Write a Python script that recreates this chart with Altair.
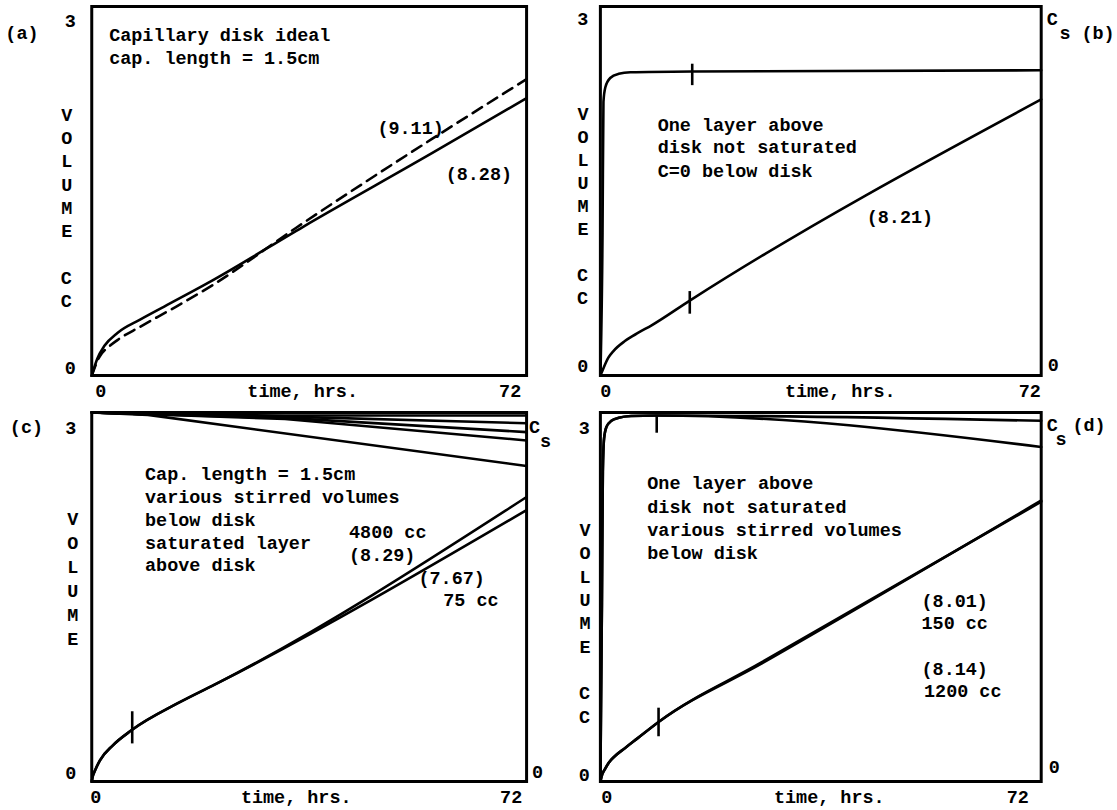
import altair as alt
import pandas as pd

FONT = "Liberation Mono"
FS = 18.5
FW = "bold"
LW = 2.6

# ---------------- panel (a) ----------------
A_SOLID_T = [0, 0.9, 2.1, 4.3, 8.0, 12.0, 20.0, 35.0, 56.4, 72.0]
A_SOLID_V = [0, 0.14, 0.25, 0.36, 0.47, 0.58, 0.80, 1.25, 1.87, 2.33]
A_DASH_T = [0, 1.2, 3.0, 4.3, 8.0, 14.0, 20.0, 33.8, 56.4, 72.0]
A_DASH_V = [0, 0.15, 0.25, 0.30, 0.41, 0.58, 0.76, 1.24, 1.99, 2.49]
A_NOTES = ["Capillary disk ideal", "cap. length = 1.5cm", "(9.11)", "(8.28)"]
A_NOTES_T = [2.88, 2.88, 47.3, 58.6]
A_NOTES_V = [2.865, 2.664, 2.078, 1.692]

# ---------------- panel (b) ----------------
B_CS_T = [0, 0.35, 0.5, 0.8, 1.6, 3.0, 4.9, 15.0, 72.0]
B_CS_V = [0, 1.2, 2.3, 2.42, 2.50, 2.535, 2.548, 2.555, 2.565]
B_VOL_T = [0, 0.4, 1.3, 2.2, 4.0, 6.2, 8.3, 14.6, 72.0]
B_VOL_V = [0, 0.05, 0.15, 0.21, 0.29, 0.36, 0.42, 0.63, 2.32]
B_TICK_T = [15.0, 14.6]
B_TICK_LO = [2.44, 0.52]
B_TICK_HI = [2.62, 0.71]
B_NOTES = ["One layer above", "disk not saturated", "C=0 below disk", "(8.21)"]
B_NOTES_T = [9.36, 9.36, 9.36, 43.5]
B_NOTES_V = [2.109, 1.924, 1.722, 1.336]

# ---------------- panel (c) ----------------
C_CS_T = [0, 9.3, 32.0, 72.0]
C_CS1_V = [3.10, 3.085, 3.075, 3.075]
C_CS2_V = [3.10, 3.085, 3.065, 3.01]
C_CS3_V = [3.10, 3.085, 3.055, 2.935]
C_CS4_V = [3.10, 3.085, 3.045, 2.865]
C_CS5_T = [0, 9.3, 72.0]
C_CS5_V = [3.10, 3.08, 2.65]
C_VOL_T = [0, 0.15, 0.54, 1.36, 3.5, 6.57, 14.5, 21.07]
C_VOL_V = [0, 0.04, 0.092, 0.178, 0.304, 0.43, 0.664, 0.832]
C_END_4800 = 2.39
C_END_75 = 2.28
C_TICK_T = [6.7]
C_TICK_LO = [0.32]
C_TICK_HI = [0.59]
C_NOTES = ["Cap. length = 1.5cm", "various stirred volumes", "below disk",
           "saturated layer", "above disk", "4800 cc", "(8.29)", "(7.67)", "75 cc"]
C_NOTES_T = [8.82, 8.82, 8.82, 8.82, 8.82, 42.6, 42.6, 54.1, 58.2]
C_NOTES_V = [2.581, 2.388, 2.195, 2.002, 1.818, 2.095, 1.902, 1.709, 1.525]

# ---------------- panel (d) ----------------
D_CS_T = [0, 0.25, 0.4, 0.6, 1.0, 1.8, 3.0, 5.0, 9.2]
D_CS_V = [0, 1.5, 2.6, 2.88, 2.98, 3.03, 3.055, 3.07, 3.075]
D_END_HI = 3.03
D_END_LO = 2.81
D_VOL_T = [0, 0.3, 0.7, 1.4, 2.3, 4.0, 6.0, 9.5, 26.3, 72.0]
D_VOL150_V = [0, 0.06, 0.10, 0.16, 0.21, 0.28, 0.36, 0.50, 0.99, 2.36]
D_VOL1200_V = [0, 0.06, 0.10, 0.16, 0.21, 0.28, 0.36, 0.50, 1.00, 2.35]
D_TICK_T = [9.2, 9.5]
D_TICK_LO = [2.93, 0.38]
D_TICK_HI = [3.075, 0.62]
D_NOTES = ["One layer above", "disk not saturated", "various stirred volumes",
           "below disk", "(8.01)", "150 cc", "(8.14)", "1200 cc"]
D_NOTES_T = [7.66, 7.66, 7.66, 7.66, 52.45, 52.45, 52.45, 52.86]
D_NOTES_V = [2.509, 2.306, 2.112, 1.918, 1.520, 1.335, 0.946, 0.760]

Y_TITLE = ["V", "O", "L", "U", "M", "E"]
Y_UNIT = "C"

TXT = dict(font=FONT, fontSize=FS, fontWeight=FW, color="black")


def x_enc(title_x, off0, off72):
    return alt.X(
        "t:Q",
        scale=alt.Scale(domain=[0, 72], nice=False, zero=False),
        axis=alt.Axis(
            values=[0, 72], title="time, hrs.", titleX=title_x, titleY=15,
            titleAlign="center", titleBaseline="middle", titleFont=FONT,
            titleFontSize=FS, titleFontWeight=FW, titleColor="black",
            labelFont=FONT, labelFontSize=FS, labelFontWeight=FW, labelColor="black",
            labelBaseline="middle", labelPadding=15, labelFlush=False,
            labelOverlap=False,
            labelOffset={"condition": {"test": "datum.value == 0", "value": off0}, "value": off72},
            ticks=False, tickSize=0, domain=False, grid=False,
        ),
    )


def y_enc(tx, ty, lh, pad, off0, off3):
    return alt.Y(
        "v:Q",
        scale=alt.Scale(domain=[0, 3.1], nice=False, zero=False),
        axis=alt.Axis(
            values=[0, 3], title=Y_TITLE, titleAngle=0, titleX=tx, titleY=ty,
            titleAlign="center", titleBaseline="middle", titleLineHeight=lh,
            titleFont=FONT, titleFontSize=FS, titleFontWeight=FW,
            titleColor="black", labelFont=FONT, labelFontSize=FS,
            labelFontWeight=FW, labelColor="black", labelAlign="right",
            labelBaseline="middle",
            labelPadding=pad, labelFlush=False, labelOverlap=False,
            labelOffset={"condition": {"test": "datum.value == 0", "value": off0}, "value": off3},
            ticks=False, tickSize=0, domain=False, grid=False,
        ),
    )


def line(X, Y, t, v, interp="monotone", dash=None):
    mk = dict(color="black", strokeWidth=LW, interpolate=interp, strokeCap="round")
    if dash:
        mk["strokeDash"] = dash
    return alt.Chart(pd.DataFrame({"t": t, "v": v})).mark_line(**mk).encode(x=X, y=Y)


def ticks(X, Y, t, lo, hi):
    df = pd.DataFrame({"t": t, "v": lo, "v2": hi})
    return alt.Chart(df).mark_rule(color="black", strokeWidth=LW).encode(x=X, y=Y, y2="v2:Q")


def notes(X, Y, texts, t, v):
    df = pd.DataFrame({"t": t, "v": v, "text": texts})
    return alt.Chart(df).mark_text(align="left", baseline="middle", **TXT).encode(
        x=X, y=Y, text="text:N")


def label(text, px, py):
    return alt.Chart(pd.DataFrame({"text": [text]})).mark_text(
        align="center", baseline="middle", **TXT).encode(
        x=alt.value(px), y=alt.value(py), text="text:N")


def unit_cc(tx, ty, lh):
    # the two "C" letters of "CC", one blank line below "VOLUME"
    return [label(Y_UNIT, tx, ty + 7 * lh), label(Y_UNIT, tx, ty + 8 * lh)]


WL, WR, H = 436, 442, 370

# (a)
Xa = x_enc(211, 8.5, -17)
Ya = y_enc(-25.5, 108, 23.4, 16.5, -8, 2)
pa = alt.layer(
    line(Xa, Ya, A_DASH_T, A_DASH_V, dash=[11, 7]),
    line(Xa, Ya, A_SOLID_T, A_SOLID_V),
    notes(Xa, Ya, A_NOTES, A_NOTES_T, A_NOTES_V),
    label("(a)", -70, 27),
    *unit_cc(-25.5, 108, 23.4),
).properties(width=WL, height=H)

# (b)
Xb = x_enc(240, 5, -12)
Yb = y_enc(-18, 107, 23.1, 12.5, -10, 0)
pb = alt.layer(
    line(Xb, Yb, B_CS_T, B_CS_V),
    line(Xb, Yb, B_VOL_T, B_VOL_V),
    ticks(Xb, Yb, B_TICK_T, B_TICK_LO, B_TICK_HI),
    notes(Xb, Yb, B_NOTES, B_NOTES_T, B_NOTES_V),
    label("C", WR + 11, 12),
    label("s", WR + 24, 27),
    label("(b)", WR + 57, 27),
    label("0", WR + 12, 359),
    *unit_cc(-18, 107, 23.1),
).properties(width=WR, height=H)

# (c)
Xc = x_enc(204.5, 3.5, -16)
Yc = y_enc(-19.5, 106, 24.2, 16, -9, 3)
pc = alt.layer(
    line(Xc, Yc, C_CS_T, C_CS1_V, interp="linear"),
    line(Xc, Yc, C_CS_T, C_CS2_V, interp="linear"),
    line(Xc, Yc, C_CS_T, C_CS3_V, interp="linear"),
    line(Xc, Yc, C_CS_T, C_CS4_V, interp="linear"),
    line(Xc, Yc, C_CS5_T, C_CS5_V, interp="linear"),
    line(Xc, Yc, C_VOL_T + [72.0], C_VOL_V + [C_END_4800]),
    line(Xc, Yc, C_VOL_T + [72.0], C_VOL_V + [C_END_75]),
    ticks(Xc, Yc, C_TICK_T, C_TICK_LO, C_TICK_HI),
    notes(Xc, Yc, C_NOTES, C_NOTES_T, C_NOTES_V),
    label("(c)", -65.5, 15),
    label("C", WL + 8, 15),
    label("s", WL + 19, 29),
    label("0", WL + 11, 361),
).properties(width=WL, height=H)

# (d)
Xd = x_enc(229, 6, -24)
Yd = y_enc(-16, 117, 23.5, 11, -7, 3)
pd_ = alt.layer(
    line(Xd, Yd, D_CS_T + [72.0], D_CS_V + [D_END_HI]),
    line(Xd, Yd, D_CS_T + [72.0], D_CS_V + [D_END_LO]),
    line(Xd, Yd, D_VOL_T, D_VOL150_V),
    line(Xd, Yd, D_VOL_T, D_VOL1200_V),
    ticks(Xd, Yd, D_TICK_T, D_TICK_LO, D_TICK_HI),
    notes(Xd, Yd, D_NOTES, D_NOTES_T, D_NOTES_V),
    label("C", WR + 11, 13),
    label("s", WR + 20, 27),
    label("(d)", WR + 48, 13),
    label("0", WR + 13, 355),
    *unit_cc(-16, 117, 23.5),
).properties(width=WR, height=H)

chart = alt.concat(
    pa, pb, pc, pd_, columns=2,
    spacing={"row": 37, "column": 74}, bounds="flush",
).properties(
    padding={"left": 3, "top": 3.5, "right": 0, "bottom": 2},
    autosize=alt.AutoSizeParams(type="pad"),
    background="white",
).configure_view(stroke="black", strokeWidth=3)

chart.save("out.html", embed_options={"renderer": "svg", "actions": False})
